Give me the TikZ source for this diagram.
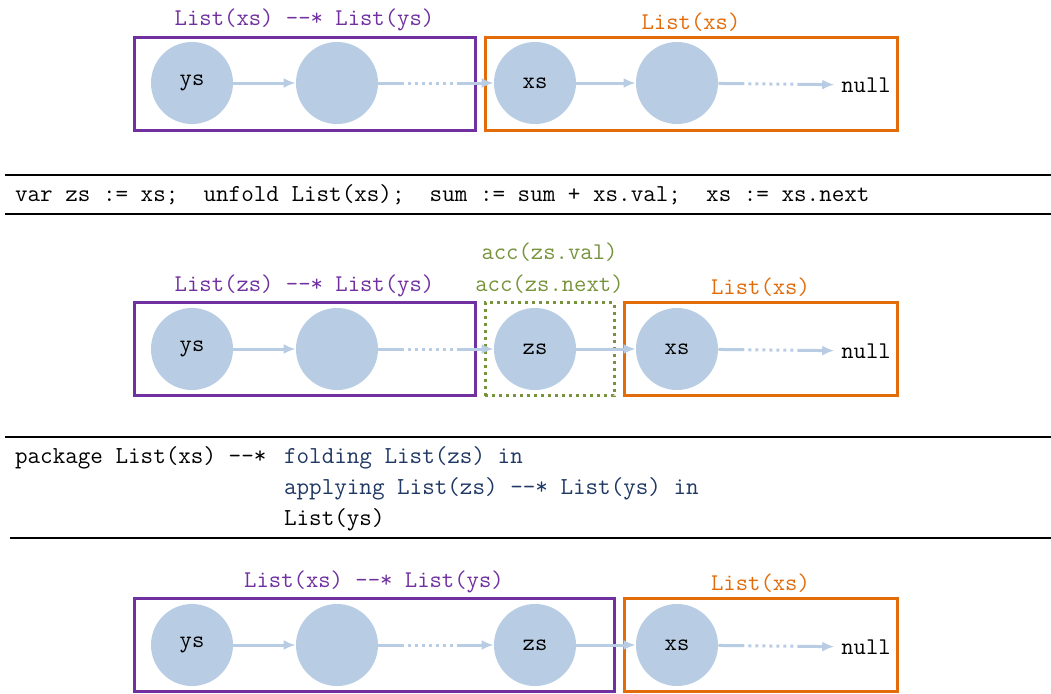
\documentclass[tikz,border=0pt]{standalone}
\usetikzlibrary{positioning,arrows.meta}
\definecolor{cellblue}{HTML}{B8CCE4}
\definecolor{listpurple}{HTML}{7030A0}
\definecolor{listorange}{HTML}{E36C0A}
\definecolor{accgreen}{HTML}{77933C}
\definecolor{codeblue}{HTML}{1F3864}

\begin{document}
\begin{tikzpicture}[x=0.5pt,y=-0.5pt,
  every node/.style={font=\fontsize{12}{16}\selectfont\ttfamily},
  cell/.style={circle, fill=cellblue, minimum size=41pt, inner sep=0pt},
  link/.style={draw=cellblue, line width=1.5pt, -{Latex[length=6pt,width=5pt]}},
  farlink/.style={link, dash pattern=on 13pt off 2pt on 1.5pt off 2pt on 1.5pt off 2pt on 1.5pt off 2pt on 1.5pt off 2pt on 1.5pt off 2pt on 1.5pt off 2pt on 1.5pt off 2pt on 60pt off 2pt},
  heap/.style={draw, line width=1.5pt, minimum height=46.5pt, inner sep=0pt},
  heaplabel/.style={above=-1.5pt of #1},
  rule/.style={line width=1pt},
  code/.style={anchor=west, font=\fontsize{12.2}{14}\selectfont\ttfamily}]
\useasboundingbox (0,0) rectangle (1051,693);

% before the step
\node[heap, listpurple, minimum width=170.5pt] (boxa1) at (304.5,83.5) {};
\node[heap, listorange, minimum width=206pt] (boxa2) at (691,83.5) {};
\node[heaplabel=boxa1, text=listpurple] (laba1) {List(xs) -{}-* List(ys)};
\node[heaplabel=boxa2, text=listorange] (laba2) {List(xs)};
\node[cell] (ya) at (192,83) {ys};
\node[cell] (ma) at (337,83) {};
\node[cell] (xa) at (535,83) {xs};
\node[cell] (na) at (677,83) {};
\node (nulla) at (866,85) {null};
\draw[link] (ya) -- (ma);
\draw[farlink] (ma) -- (xa);
\draw[link] (xa) -- (na);
\draw[farlink] (na) -- (nulla);

% loop body
\draw[rule] (5,175) -- (1051,175);
\node[code] (body) at (8,195) {var zs := xs;~~unfold List(xs);~~sum := sum + xs.val;~~xs := xs.next};
\draw[rule] (5,214) -- (1051,214);

% after the step
\node[heap, listpurple, minimum width=170.5pt] (boxb1) at (304.5,349) {};
\node[heap, accgreen, dotted, minimum width=64.5pt] (boxb2) at (549.5,349) {};
\node[heap, listorange, minimum width=136.5pt] (boxb3) at (760.5,349) {};
\node[heaplabel=boxb1, text=listpurple] (labb1) {List(zs) -{}-* List(ys)};
\node[above=0pt of boxb2, text=accgreen, align=center] (labb2) {acc(zs.val)\\acc(zs.next)};
\node[heaplabel=boxb3, text=listorange] (labb3) {List(xs)};
\node[cell] (yb) at (192,349) {ys};
\node[cell] (mb) at (337,349) {};
\node[cell] (zb) at (535,349) {zs};
\node[cell] (xb) at (677,349) {xs};
\node (nullb) at (866,351) {null};
\draw[link] (yb) -- (mb);
\draw[farlink] (mb) -- (zb);
\draw[link] (zb) -- (xb);
\draw[farlink] (xb) -- (nullb);

% ghost statement
\draw[rule] (5,437) -- (1051,437);
\node[code] (pkg) at (8,458) {package List(xs) -{}-*};
\node[code, text=codeblue] (fold) at (277,458) {folding List(zs) in};
\node[code, text=codeblue] (apply) at (277,489) {applying List(zs) -{}-* List(ys) in};
\node[code] (res) at (277,520) {List(ys)};
\draw[rule] (10,538) -- (1051,538);

% after the package
\node[heap, listpurple, minimum width=240pt] (boxc1) at (374,645) {};
\node[heap, listorange, minimum width=136.5pt] (boxc2) at (760.5,645) {};
\node[heaplabel=boxc1, text=listpurple] (labc1) {List(xs) -{}-* List(ys)};
\node[heaplabel=boxc2, text=listorange] (labc2) {List(xs)};
\node[cell] (yc) at (192,645) {ys};
\node[cell] (mc) at (337,645) {};
\node[cell] (zc) at (535,645) {zs};
\node[cell] (xc) at (677,645) {xs};
\node (nullc) at (866,647) {null};
\draw[link] (yc) -- (mc);
\draw[farlink] (mc) -- (zc);
\draw[link] (zc) -- (xc);
\draw[farlink] (xc) -- (nullc);
\end{tikzpicture}
\end{document}
